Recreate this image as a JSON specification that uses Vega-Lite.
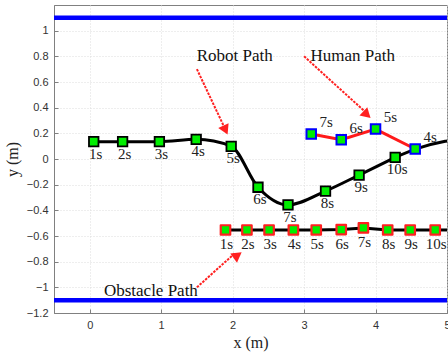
{
  "$schema": "https://vega.github.io/schema/vega-lite/v6.json",
  "width": 393,
  "height": 308,
  "autosize": {"type": "none"},
  "padding": {"left": 54, "top": 5, "right": 1, "bottom": 40},
  "background": "white",
  "config": {
    "view": {"stroke": "#808080", "strokeWidth": 1},
    "axis": {
      "domainColor": "#808080",
      "tickColor": "#808080",
      "tickSize": -4,
      "labelFont": "Liberation Sans",
      "labelFontSize": 11,
      "labelColor": "#333333",
      "labelOverlap": false,
      "labelFlush": false,
      "titleFont": "Liberation Serif",
      "titleFontSize": 16,
      "titleFontWeight": "normal",
      "titleColor": "#222222",
      "gridColor": "#dcdcdc",
      "gridDash": [1, 2],
      "gridWidth": 1
    }
  },
  "datasets": {
    "robot": [
      {"x": 0.056, "y": 0.135, "t": "1s"},
      {"x": 0.46, "y": 0.135, "t": "2s"},
      {"x": 0.975, "y": 0.135, "t": "3s"},
      {"x": 1.49, "y": 0.153, "t": "4s"},
      {"x": 1.98, "y": 0.099, "t": "5s"},
      {"x": 2.355, "y": -0.22, "t": "6s"},
      {"x": 2.775, "y": -0.358, "t": "7s"},
      {"x": 3.3, "y": -0.25, "t": "8s"},
      {"x": 3.77, "y": -0.125, "t": "9s"},
      {"x": 4.275, "y": 0.013, "t": "10s"}
    ],
    "robotTail": [
      {"x": 4.275, "y": 0.013},
      {"x": 4.6, "y": 0.085},
      {"x": 4.975, "y": 0.138},
      {"x": 5.1, "y": 0.15}
    ],
    "human": [
      {"x": 3.1, "y": 0.195, "t": "7s"},
      {"x": 3.52, "y": 0.15, "t": "6s"},
      {"x": 4.0, "y": 0.233, "t": "5s"},
      {"x": 4.555, "y": 0.078, "t": "4s"}
    ],
    "obstacle": [
      {"x": 1.9, "y": -0.553, "t": "1s"},
      {"x": 2.2, "y": -0.553, "t": "2s"},
      {"x": 2.51, "y": -0.553, "t": "3s"},
      {"x": 2.85, "y": -0.553, "t": "4s"},
      {"x": 3.17, "y": -0.553, "t": "5s"},
      {"x": 3.52, "y": -0.55, "t": "6s"},
      {"x": 3.83, "y": -0.537, "t": "7s"},
      {"x": 4.17, "y": -0.553, "t": "8s"},
      {"x": 4.485, "y": -0.553, "t": "9s"},
      {"x": 4.835, "y": -0.553, "t": "10s"}
    ],
    "obstacleTail": [
      {"x": 4.835, "y": -0.553},
      {"x": 5.1, "y": -0.553}
    ],
    "walls": [{"y": 1.1}, {"y": -1.1}],
    "arrows": [
      {"name": "robot", "x": 1.5, "y": 0.7, "x2": 1.89, "y2": 0.24},
      {"name": "human", "x": 3.0, "y": 0.8, "x2": 3.85, "y2": 0.37},
      {"name": "obstacle", "x": 1.5, "y": -1.0, "x2": 2.04, "y2": -0.73}
    ],
    "heads": [
      {"name": "robot", "x": 1.9, "y": 0.225},
      {"name": "human", "x": 3.88, "y": 0.345},
      {"name": "obstacle", "x": 2.07, "y": -0.75}
    ],
    "notes": [
      {"x": 2.03, "y": 0.8, "text": "Robot Path"},
      {"x": 3.68, "y": 0.8, "text": "Human Path"},
      {"x": 0.856, "y": -1.025, "text": "Obstacle Path"}
    ]
  },
  "layer": [
    {
      "data": {"name": "walls"},
      "mark": {"type": "rule", "color": "#0000ff", "strokeWidth": 4.5},
      "encoding": {
        "y": {
          "field": "y", "type": "quantitative",
          "scale": {"domain": [-1.2, 1.2], "nice": false, "zero": false},
          "axis": {"title": "y (m)", "format": "~g", "labelOverlap": false, "values": [-1.2, -1, -0.8, -0.6, -0.4, -0.2, 0, 0.2, 0.4, 0.6, 0.8, 1], "labelPadding": 10, "titlePadding": 6, "grid": true}
        }
      }
    },
    {
      "encoding": {
        "x": {
          "field": "x", "type": "quantitative",
          "scale": {"domain": [-0.5, 5], "nice": false, "zero": false},
          "axis": {"title": "x (m)", "format": "~g", "labelOverlap": false, "values": [0, 1, 2, 3, 4, 5], "labelPadding": 10, "titlePadding": 4, "grid": true}
        },
        "y": {
          "field": "y", "type": "quantitative",
          "scale": {"domain": [-1.2, 1.2], "nice": false, "zero": false},
          "axis": {"title": "y (m)", "format": "~g", "labelOverlap": false, "values": [-1.2, -1, -0.8, -0.6, -0.4, -0.2, 0, 0.2, 0.4, 0.6, 0.8, 1], "labelPadding": 10, "titlePadding": 6, "grid": true}
        }
      },
      "layer": [
        {
          "data": {"name": "robot"},
          "mark": {"type": "line", "color": "black", "strokeWidth": 3, "interpolate": "monotone", "clip": true}
        },
        {
          "data": {"name": "robotTail"},
          "mark": {"type": "line", "color": "black", "strokeWidth": 3, "interpolate": "monotone", "clip": true}
        },
        {
          "data": {"name": "obstacle"},
          "mark": {"type": "line", "color": "black", "strokeWidth": 3, "clip": true}
        },
        {
          "data": {"name": "obstacleTail"},
          "mark": {"type": "line", "color": "black", "strokeWidth": 3, "clip": true}
        },
        {
          "data": {"name": "human"},
          "mark": {"type": "line", "color": "#ff1a1a", "strokeWidth": 3}
        },
        {
          "data": {"name": "robot"},
          "mark": {"type": "point", "shape": "square", "filled": true, "fill": "#00ee00", "stroke": "black", "strokeWidth": 1.8, "size": 90, "opacity": 1}
        },
        {
          "data": {"name": "obstacle"},
          "mark": {"type": "point", "shape": "square", "filled": true, "fill": "#00ee00", "stroke": "#ff2020", "strokeWidth": 2.2, "strokeJoin": "round", "size": 90, "opacity": 1}
        },
        {
          "data": {"name": "human"},
          "mark": {"type": "point", "shape": "square", "filled": true, "fill": "#00ee00", "stroke": "#0000ff", "strokeWidth": 2, "size": 90, "opacity": 1}
        },
        {
          "data": {"name": "robot"},
          "mark": {"type": "text", "font": "Liberation Serif", "fontSize": 15, "dx": 2, "dy": 12, "color": "#222222"},
          "encoding": {"text": {"field": "t"}}
        },
        {
          "data": {"name": "obstacle"},
          "mark": {"type": "text", "font": "Liberation Serif", "fontSize": 15, "dx": 1, "dy": 14, "color": "#222222"},
          "encoding": {"text": {"field": "t"}}
        },
        {
          "data": {"name": "human"},
          "mark": {"type": "text", "font": "Liberation Serif", "fontSize": 15, "dx": 15, "dy": -12, "color": "#222222"},
          "encoding": {"text": {"field": "t"}}
        },
        {
          "data": {"name": "arrows"},
          "mark": {"type": "rule", "color": "#ff2020", "strokeWidth": 2, "strokeDash": [2.5, 1.2]},
          "encoding": {
            "x2": {"field": "x2"},
            "y2": {"field": "y2"}
          }
        },
        {
          "data": {"name": "heads"},
          "transform": [{"filter": "datum.name === 'robot'"}],
          "mark": {"type": "point", "shape": "triangle-up", "filled": true, "color": "#ff2020", "size": 130, "angle": 155, "opacity": 1}
        },
        {
          "data": {"name": "heads"},
          "transform": [{"filter": "datum.name === 'human'"}],
          "mark": {"type": "point", "shape": "triangle-up", "filled": true, "color": "#ff2020", "size": 130, "angle": 133, "opacity": 1}
        },
        {
          "data": {"name": "heads"},
          "transform": [{"filter": "datum.name === 'obstacle'"}],
          "mark": {"type": "point", "shape": "triangle-up", "filled": true, "color": "#ff2020", "size": 130, "angle": 54, "opacity": 1}
        },
        {
          "data": {"name": "notes"},
          "mark": {"type": "text", "font": "Liberation Serif", "fontSize": 17, "color": "#111111"},
          "encoding": {"text": {"field": "text"}}
        }
      ]
    }
  ]
}
